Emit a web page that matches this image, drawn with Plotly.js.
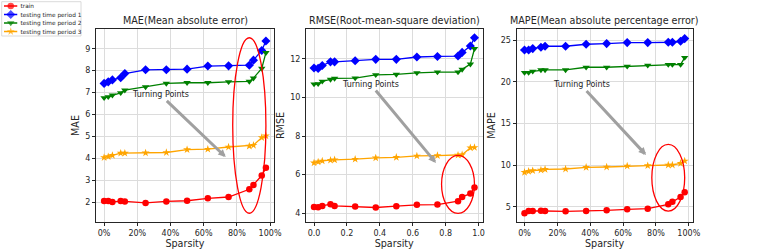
<!DOCTYPE html>
<html><head><meta charset="utf-8">
<script src="https://cdn.plot.ly/plotly-3.0.1.min.js"></script>
<style>html,body{margin:0;padding:0;background:#fff}#chart{width:770px;height:250px}</style>
</head><body><div id="chart"></div>
<script>
// ---- data ----
const sparsity = [0, 0.025, 0.05, 0.1, 0.125, 0.25, 0.375, 0.5, 0.625, 0.75, 0.875, 0.9, 0.95, 0.975];
const seriesNames = ['train', 'testing time period 1', 'testing time period 2', 'testing time period 3'];

const maeTrain = [2.06, 2.06, 2.01, 2.06, 2.04, 1.97, 2.04, 2.07, 2.18, 2.24, 2.59, 2.79, 3.22, 3.57];
const maeP1    = [7.42, 7.49, 7.58, 7.68, 7.87, 8.04, 8.04, 8.07, 8.21, 8.22, 8.25, 8.48, 8.92, 9.35];
const maeP2    = [6.76, 6.81, 6.88, 6.99, 7.11, 7.26, 7.42, 7.45, 7.45, 7.49, 7.51, 7.66, 8.10, 8.82];
const maeP3    = [4.04, 4.08, 4.14, 4.24, 4.24, 4.25, 4.27, 4.40, 4.42, 4.52, 4.56, 4.60, 4.95, 5.03];

const rmseTrain = [4.33, 4.31, 4.38, 4.47, 4.38, 4.35, 4.30, 4.37, 4.44, 4.45, 4.63, 4.85, 5.02, 5.33];
const rmseP1    = [11.52, 11.50, 11.65, 11.84, 11.84, 11.90, 11.97, 11.97, 12.09, 12.12, 12.14, 12.33, 12.66, 13.09];
const rmseP2    = [10.69, 10.70, 10.83, 10.93, 10.98, 11.00, 11.17, 11.19, 11.27, 11.31, 11.31, 11.45, 11.72, 12.52];
const rmseP3    = [6.61, 6.66, 6.71, 6.75, 6.77, 6.80, 6.87, 6.90, 6.97, 6.99, 7.01, 7.03, 7.39, 7.41];

const mapeTrain = [4.24, 4.52, 4.52, 4.56, 4.52, 4.48, 4.52, 4.60, 4.72, 4.80, 5.32, 5.64, 6.20, 6.76];
const mapeP1    = [23.84, 23.84, 24.00, 24.16, 24.28, 24.28, 24.52, 24.60, 24.72, 24.72, 24.76, 24.76, 24.88, 25.20];
const mapeP2    = [21.12, 21.12, 21.28, 21.44, 21.44, 21.44, 21.76, 21.76, 21.88, 22.00, 22.08, 22.08, 22.08, 22.92];
const mapeP3    = [9.16, 9.28, 9.36, 9.44, 9.52, 9.56, 9.76, 9.80, 9.92, 9.96, 10.04, 10.04, 10.24, 10.52];

const xTickVals = [0, 0.2, 0.4, 0.6, 0.8, 1.0];
const pctTickText = ['0%', '20%', '40%', '60%', '80%', '100%'];
const decTickText = ['0.0', '0.2', '0.4', '0.6', '0.8', '1.0'];
const panelTitles = ['MAE(Mean absolute error)', 'RMSE(Root-mean-square deviation)', 'MAPE(Mean absolute percentage error)'];
const yLabels = ['MAE', 'RMSE', 'MAPE'];
const xLabel = 'Sparsity';
const noteText = 'Turning Points';
const legendSampleX = [0, 1, 2];

// ---- styles / layout helpers ----
const FONT = 'DejaVu Sans';
const INK = '#262626';
const colors = ['#ff0000', '#0000ff', '#008000', '#ffa500'];
const symbols = ['circle', 'diamond', 'triangle-down', 'star'];
const msizes = [6.5, 7, 6.5, 6];
const W = 770, H = 250;
const px = (a, b) => [a / W, b / W];
const yDom = [1 - 222 / H, 1 - 29 / H];

const panels = [
  {sfx: '', series: [maeTrain, maeP1, maeP2, maeP3], xdom: px(96, 274), yrange: [1.1, 9.9], dtick: 1, ticktext: pctTickText,
   ellipse: {cx: 0.875, cy: 5.5, w: 0.2, h: 8}, note: {tx: 0.34, ty: 6.9, hx: 0.733, hy: 4.06}},
  {sfx: '2', series: [rmseTrain, rmseP1, rmseP2, rmseP3], xdom: px(306, 482.5), yrange: [3.55, 13.54], dtick: 2, ticktext: decTickText,
   ellipse: {cx: 0.875, cy: 5.5, w: 0.2, h: 3}, note: {tx: 0.345, ty: 10.67, hx: 0.741, hy: 6.61}},
  {sfx: '3', series: [mapeTrain, mapeP1, mapeP2, mapeP3], xdom: px(516.5, 692.7), yrange: [3.2, 26.35], dtick: 5, ticktext: pctTickText,
   ellipse: {cx: 0.875, cy: 8.5, w: 0.2, h: 8}, note: {tx: 0.344, ty: 19.64, hx: 0.74, hy: 11.23}}
];

const traces = [];
const layout = {
  width: W, height: H,
  margin: {l: 0, r: 0, t: 0, b: 0},
  paper_bgcolor: '#ffffff', plot_bgcolor: 'rgba(0,0,0,0)',
  font: {family: FONT, color: INK},
  showlegend: false,
  shapes: [], annotations: []
};

panels.forEach((p, i) => {
  const xa = 'x' + p.sfx, ya = 'y' + p.sfx;
  p.series.forEach((vals, s) => {
    traces.push({
      type: 'scatter', mode: 'lines+markers', name: seriesNames[s],
      x: sparsity, y: vals, xaxis: xa, yaxis: ya,
      line: {color: colors[s], width: 1.3},
      marker: {color: colors[s], symbol: symbols[s], size: msizes[s], line: {width: 0}},
      showlegend: false
    });
  });
  const common = {
    showgrid: true, gridcolor: '#dcdcdc', gridwidth: 1, zeroline: false,
    showline: true, linecolor: INK, linewidth: 1, mirror: true,
    ticks: 'outside', ticklen: 3, tickwidth: 1, tickcolor: INK,
    tickfont: {family: FONT, size: 8, color: INK}
  };
  layout['xaxis' + p.sfx] = Object.assign({}, common, {
    domain: p.xdom, anchor: ya, range: [-0.04875, 1.02375],
    tickmode: 'array', tickvals: xTickVals, ticktext: p.ticktext,
    title: {text: xLabel, font: {family: FONT, size: 9.6, color: INK}, standoff: 3}
  });
  layout['yaxis' + p.sfx] = Object.assign({}, common, {
    domain: yDom, anchor: xa, range: p.yrange, tickmode: 'linear', tick0: 0, dtick: p.dtick,
    title: {text: yLabels[i], font: {family: FONT, size: 9.6, color: INK}, standoff: 3}
  });
  const e = p.ellipse;
  layout.shapes.push({
    type: 'circle', xref: xa, yref: ya,
    x0: e.cx - e.w / 2, x1: e.cx + e.w / 2, y0: e.cy - e.h / 2, y1: e.cy + e.h / 2,
    line: {color: '#ff0000', width: 1.3}, fillcolor: 'rgba(0,0,0,0)', layer: 'above'
  });
  layout.annotations.push({
    xref: xa + ' domain', yref: ya + ' domain', x: 0.5, y: 1, xanchor: 'center', yanchor: 'bottom',
    yshift: 1, showarrow: false, text: panelTitles[i], font: {family: FONT, size: 9.6, color: INK}
  });
  const n = p.note;
  layout.annotations.push({
    xref: xa, yref: ya, axref: xa, ayref: ya,
    x: n.hx, y: n.hy, ax: n.tx, ay: n.ty,
    text: noteText, showarrow: true, arrowhead: 2, arrowsize: 0.5, arrowwidth: 3,
    arrowcolor: '#a0a0a0', font: {family: FONT, size: 8, color: INK}
  });
});

// ---- legend (small dedicated axis, labels are category ticks) ----
layout.xaxis4 = {domain: px(4, 17.5), anchor: 'y4', range: [0, 2], visible: false, fixedrange: true};
layout.yaxis4 = {
  domain: [1 - 35.75 / H, 1 - 1.75 / H], anchor: 'x4', side: 'right', type: 'category',
  categoryorder: 'array', categoryarray: seriesNames, range: [3.5, -0.5],
  showgrid: false, zeroline: false, showline: false, ticks: '', ticklabelstandoff: 2,
  tickfont: {family: FONT, size: 5.8, color: INK}, fixedrange: true
};
seriesNames.forEach((nm, s) => {
  traces.push({
    type: 'scatter', mode: 'lines+markers', x: legendSampleX, y: legendSampleX.map(() => nm),
    xaxis: 'x4', yaxis: 'y4', hoverinfo: 'skip', showlegend: false,
    line: {color: colors[s], width: 1.3},
    marker: {color: colors[s], symbol: symbols[s], size: legendSampleX.map((_, k) => k === 1 ? msizes[s] : 0), line: {width: 0}}
  });
});
layout.shapes.push({
  type: 'rect', xref: 'paper', yref: 'paper',
  x0: 1.7 / W, x1: 81 / W, y0: 1 - 36 / H, y1: 1 - 1.7 / H,
  line: {color: '#d0d0d0', width: 0.8}, fillcolor: '#ffffff', layer: 'below'
});

Plotly.newPlot('chart', traces, layout, {staticPlot: true, displayModeBar: false});
</script>
</body></html>
